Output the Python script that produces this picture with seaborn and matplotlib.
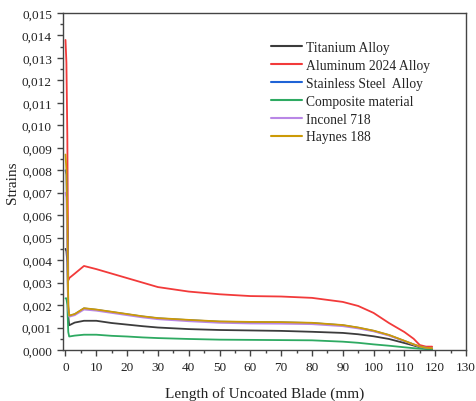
import numpy as np
import pandas as pd
import matplotlib
matplotlib.use("Agg")
import matplotlib.pyplot as plt
from matplotlib.ticker import MultipleLocator, FuncFormatter
import seaborn as sns

# Data
x_mm = [0, 0.3, 0.6, 0.9, 1.2, 3, 6, 10, 15, 20, 25, 30, 40, 50, 60, 70, 80,
        90, 95, 100, 105, 110, 113, 115, 117, 119]

titanium = [0.0045, 0.0044, 0.0039, 0.0015, 0.0011, 0.00122, 0.0013, 0.0013,
            0.0012, 0.00113, 0.00106, 0.0010, 0.00093, 0.00089, 0.00087,
            0.00085, 0.00081, 0.00076, 0.0007, 0.00061, 0.00049, 0.00031,
            0.0002, 0.00012, 0.00007, 0.00005]
aluminum = [0.0138, 0.0128, 0.0095, 0.0031, 0.0032, 0.0034, 0.00374, 0.0036,
            0.0034, 0.0032, 0.0030, 0.0028, 0.0026, 0.00248, 0.0024, 0.00238,
            0.00232, 0.00214, 0.00196, 0.00165, 0.0012, 0.0008, 0.0005,
            0.00022, 0.00015, 0.00015]
stainless = [0.0080, 0.0078, 0.0055, 0.0019, 0.00152, 0.00159, 0.00185,
             0.00179, 0.00169, 0.00159, 0.00149, 0.00141, 0.00133, 0.00126,
             0.00124, 0.00123, 0.0012, 0.0011, 0.00099, 0.00085, 0.00066,
             0.0004, 0.00025, 0.00015, 0.0001, 0.00008]
composite = [0.0023, 0.0023, 0.0020, 0.0008, 0.0006, 0.00064, 0.00068,
             0.00068, 0.00063, 0.0006, 0.00056, 0.00053, 0.00049, 0.00046,
             0.00045, 0.00044, 0.00043, 0.00037, 0.00032, 0.00025, 0.00019,
             0.00012, 0.00008, 0.00006, 0.00004, 0.00003]
inconel = [0.0070, 0.0068, 0.0045, 0.0018, 0.00148, 0.00155, 0.0018, 0.00175,
           0.00165, 0.00155, 0.00145, 0.00137, 0.00128, 0.00121, 0.00118,
           0.00117, 0.00115, 0.00106, 0.00096, 0.00083, 0.00064, 0.0004,
           0.00024, 0.00015, 0.0001, 0.00008]
haynes = [0.0087, 0.0080, 0.0058, 0.0020, 0.00153, 0.0016, 0.00186, 0.0018,
          0.0017, 0.0016, 0.0015, 0.00142, 0.00134, 0.00127, 0.00125,
          0.00124, 0.00121, 0.00111, 0.0010, 0.00086, 0.00067, 0.00041,
          0.00025, 0.00016, 0.0001, 0.00008]

series_names = ["Titanium Alloy", "Aluminum 2024 Alloy", "Stainless Steel  Alloy",
                "Composite material", "Inconel 718", "Haynes 188"]
series_values = [titanium, aluminum, stainless, composite, inconel, haynes]
colors = ["#3c3c3c", "#f23a3a", "#1f63d6", "#2eaa62", "#b987e6", "#cc9a06"]

frames = []
for name, vals in zip(series_names, series_values):
    frames.append(pd.DataFrame({"x": x_mm, "strain": vals, "material": name}))
df = pd.concat(frames, ignore_index=True)

sns.set_style("ticks")
plt.rcParams["font.family"] = ["Liberation Serif", "DejaVu Serif"]

fig = plt.figure(figsize=(4.76, 4.02), dpi=100)
ax = fig.add_axes([0.1324, 0.1269, 0.979 - 0.1324, 0.9652 - 0.1269])

sns.lineplot(data=df, x="x", y="strain", hue="material", hue_order=series_names,
             palette=dict(zip(series_names, colors)), linewidth=1.3,
             sort=False, estimator=None, ax=ax)

ax.set_xlim(-0.8, 130)
ax.set_ylim(0, 0.015)
ax.xaxis.set_major_locator(MultipleLocator(10))
ax.xaxis.set_minor_locator(MultipleLocator(5))
ax.yaxis.set_major_locator(MultipleLocator(0.001))
ax.yaxis.set_minor_locator(MultipleLocator(0.0005))
ax.yaxis.set_major_formatter(FuncFormatter(lambda v, p: f"{v:.3f}".replace(".", ",")))

for s in ax.spines.values():
    s.set_visible(True)
    s.set_color("#444444")
    s.set_linewidth(1.0)
ax.tick_params(which="major", length=4.5, width=1, color="#444444",
               labelsize=9.5, labelcolor="#222222", direction="out")
ax.tick_params(which="minor", length=2.5, width=1, color="#444444", direction="out")

ax.set_xlabel("Length of Uncoated Blade (mm)", fontsize=11, color="#222222", labelpad=9.5)
ax.set_ylabel("Strains", fontsize=11, color="#222222", labelpad=2)

leg = ax.legend(loc="upper left", bbox_to_anchor=(271 / 476, 1 - 42 / 402),
                bbox_transform=fig.transFigure, frameon=False,
                fontsize=9.8, handlelength=2.3, handletextpad=0.25,
                labelspacing=0.36, borderpad=0, borderaxespad=0, title=None)
for line in leg.get_lines():
    line.set_linewidth(1.5)

fig.savefig("out.png", dpi=100)
